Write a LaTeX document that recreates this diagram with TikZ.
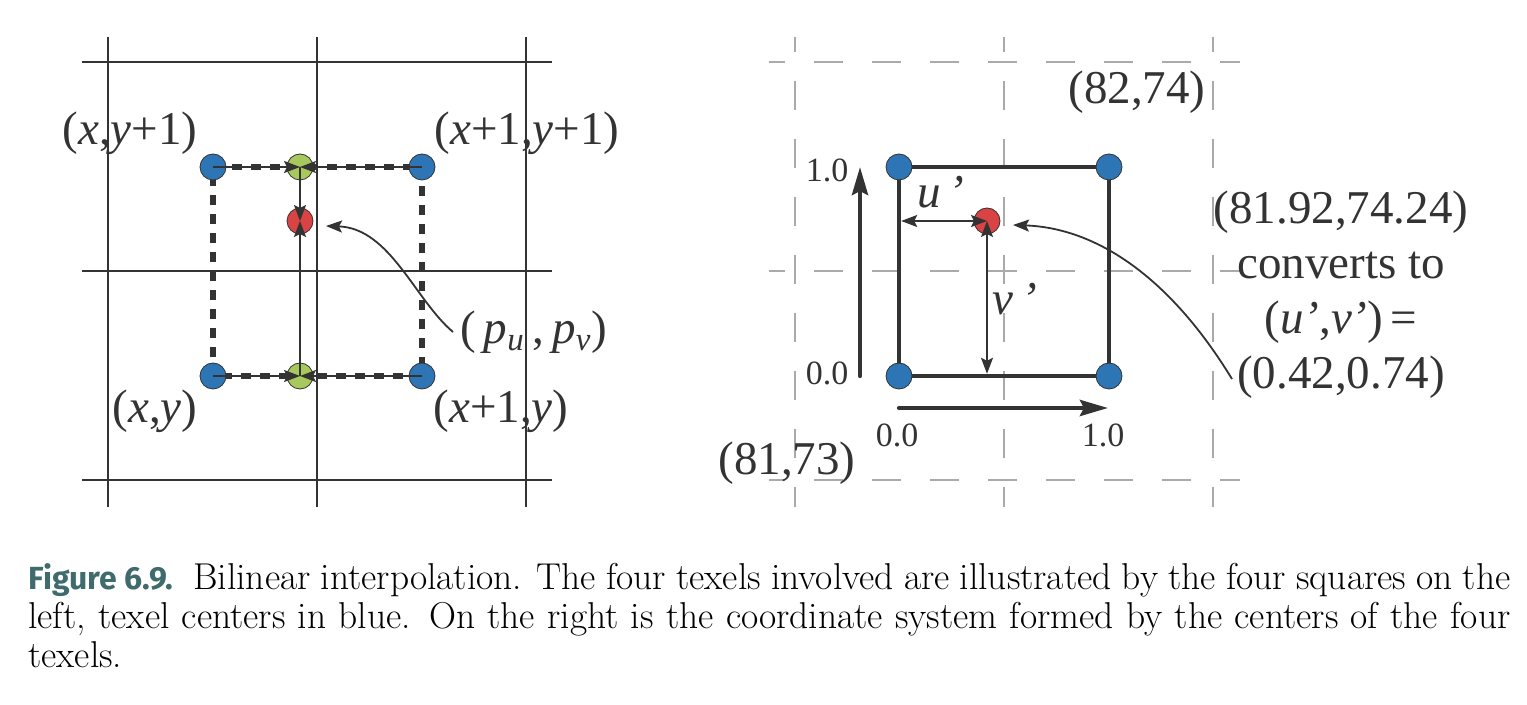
\documentclass[tikz,border=0pt]{standalone}
\usepackage{fontspec}
\usepackage{tikz}
\usetikzlibrary{arrows.meta,calc,backgrounds}
\newfontfamily\labelfont{Liberation Serif}
\newfontfamily\capfont{Fira Sans}
\definecolor{texblue}{HTML}{2E75B6}
\definecolor{texgreen}{HTML}{A6C85C}
\definecolor{texred}{HTML}{DA4343}
\definecolor{ink}{HTML}{333333}
\definecolor{gridgrey}{HTML}{AAAAAA}
\definecolor{capteal}{HTML}{3F6B6C}
\tikzset{
  texel/.style={circle,draw=ink,line width=0.4pt,fill=texblue,minimum size=13pt,inner sep=0pt},
  midpt/.style={texel,fill=texgreen},
  sample/.style={texel,fill=texred},
  gridline/.style={draw=ink,line width=0.65pt},
  dashgrid/.style={draw=gridgrey,line width=0.65pt,dash pattern=on 14.5pt off 14.5pt,dash phase=7pt},
  cellbox/.style={draw=ink,line width=2.6pt,dash pattern=on 5pt off 4.5pt},
  unitbox/.style={draw=ink,line width=2.2pt},
  arrow/.style={-{Stealth[length=8pt,width=6pt,inset=1.5pt]},draw=ink,line width=0.9pt},
  dblarrow/.style={{Stealth[length=8pt,width=6pt,inset=1.5pt]}-{Stealth[length=8pt,width=6pt,inset=1.5pt]},draw=ink,line width=0.9pt},
  axisarrow/.style={-{Stealth[length=14pt,width=8pt,inset=2pt]},draw=ink,line width=2.2pt,line cap=round},
  biglabel/.style={font=\labelfont\fontsize{23.5}{27.5}\selectfont,text=ink,inner sep=0pt},
  smalllabel/.style={font=\labelfont\fontsize{17}{20}\selectfont,text=ink,inner sep=0pt}
}

\begin{document}
\begin{tikzpicture}[x=0.5pt,y=-0.5pt]
  \useasboundingbox (0,0) rectangle (1527,705);

  % left: four texels
  \node[texel] (tl) at (213,167) {};
  \node[texel] (tr) at (422,167) {};
  \node[texel] (bl) at (213,376) {};
  \node[texel] (br) at (422,376) {};
  \node[midpt] (gt) at (300,167) {};
  \node[midpt] (gb) at (300,376) {};
  \node[sample] (pt) at (300,221) {};

  \begin{scope}[on background layer]
    \foreach \x in {108,317,526} \draw[gridline] (\x,37) -- (\x,507);
    \foreach \y in {62,271,480} \draw[gridline] (82,\y) -- (552,\y);
    \draw[cellbox] (tl.center) -- (tr.center) -- (br.center) -- (bl.center) -- cycle;
  \end{scope}

  \draw[arrow] (tl.center) -- (gt.center);
  \draw[arrow] (tr.center) -- (gt.center);
  \draw[arrow] (bl.center) -- (gb.center);
  \draw[arrow] (br.center) -- (gb.center);
  \draw[arrow] (gt.center) -- (pt.center);
  \draw[arrow] (gb.center) -- (pt.center);

  \node[biglabel] (ltl) at (130,133) {(\textit{x},\textit{y}+1)};
  \node[biglabel] (ltr) at (527,133) {(\textit{x}+1,\textit{y}+1)};
  \node[biglabel] (lbl) at (155,411) {(\textit{x},\textit{y})};
  \node[biglabel] (lbr) at (501,411) {(\textit{x}+1,\textit{y})};
  \node[biglabel,anchor=west] (puv) at (460,332)
    {(\,\textit{p}\textsubscript{\textit{u}}\,,\,\textit{p}\textsubscript{\textit{v}})};
  \draw[arrow] ([xshift=-3.5pt]puv.west) .. controls (415,300) and (390,228) .. ($(pt.center)+(26,5)$);

  % right: unit square
  \node[texel] (sa) at (899,167) {};
  \node[texel] (sb) at (1109,167) {};
  \node[texel] (sc) at (899,376) {};
  \node[texel] (sd) at (1109,376) {};
  \node[sample] (sp) at (987,221) {};

  \begin{scope}[on background layer]
    \foreach \x in {795,1004,1213} \draw[dashgrid] (\x,37) -- (\x,507);
    \foreach \y in {62,271,480} \draw[dashgrid,dash phase=6.5pt] (769,\y) -- (1240,\y);
    \draw[unitbox] (sa.center) -- (sb.center) -- (sd.center) -- (sc.center) -- cycle;
  \end{scope}

  \draw[dblarrow,shorten <=1.1pt] (sa.center |- sp.center) -- (sp.center);
  \draw[dblarrow,shorten >=1.1pt] (sp.center) -- (sp.center |- sc.center);
  \node[biglabel,anchor=base] (ulab) at (941,208) {\textit{u\,’}};
  \node[biglabel,anchor=base] (vlab) at (1015,315) {\textit{v\,’}};

  \coordinate (vax0) at (860,376);
  \coordinate (vax1) at (860,167);
  \coordinate (hax0) at (899,408);
  \coordinate (hax1) at (1108,408);
  \draw[axisarrow] (vax0) -- (vax1);
  \draw[axisarrow] (hax0) -- (hax1);
  \node[smalllabel] (v1) at (827,170) {1.0};
  \node[smalllabel] (v0) at (827,373) {0.0};
  \node[smalllabel] (h0) at (897,435) {0.0};
  \node[smalllabel] (h1) at (1103,435) {1.0};

  \node[biglabel] (far) at (1137,92) {(82,74)};
  \node[biglabel] (near) at (787,463) {(81,73)};
  \node[biglabel,align=center] (conv) at (1341,295) {(81.92,74.24)\\converts to\\(\textit{u’},\textit{v’})\,=\\(0.42,0.74)};
  \coordinate (convpt) at (1232,379);
  \draw[arrow] (convpt) .. controls (1171,279) and (1098,228) .. ($(sp.center)+(26,4)$);

  \node[anchor=north west,inner sep=0pt,text width=741pt,align=justify,font=\fontsize{18.7}{19.5}\selectfont] (caption) at (28,563)
    {{\capfont\bfseries\fontsize{16}{19.5}\selectfont\color{capteal}Figure 6.9.}\hspace{0.55em}Bilinear interpolation. The four texels involved are illustrated by the four squares on the\linebreak left, texel centers in blue. On the right is the coordinate system formed by the centers of the four\linebreak texels.};
\end{tikzpicture}
\end{document}
